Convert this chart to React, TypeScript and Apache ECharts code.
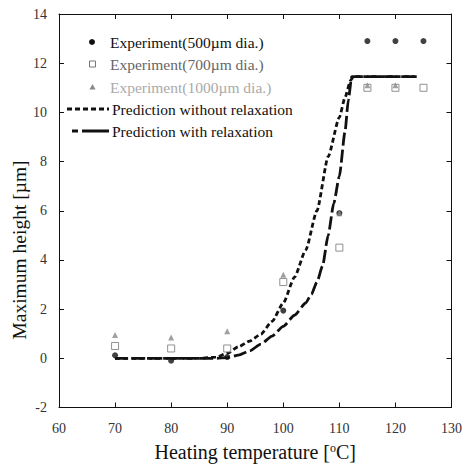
import React, { useEffect, useRef } from "react";
import * as echarts from "echarts";

const temps = [70, 80, 90, 100, 110, 115, 120, 125];
const exp500 = [0.12, -0.1, 0.05, 1.94, 5.9, 12.9, 12.9, 12.9];
const exp700 = [0.5, 0.4, 0.4, 3.1, 4.5, 11.0, 11.0, 11.0];
const exp1000Temps = [70, 80, 90, 100, 110, 115, 120];
const exp1000 = [0.95, 0.85, 1.1, 3.4, 5.9, 11.1, 11.1];

const predNoRelaxX = [70, 75, 80, 85, 88, 90, 92, 94, 96, 98, 100, 102, 104, 106, 108, 110, 111, 112, 112.5, 124];
const predNoRelaxY = [0, 0, 0, 0, 0.05, 0.2, 0.47, 0.7, 0.98, 1.5, 2.25, 3.3, 4.4, 6.0, 8.2, 9.8, 10.6, 11.3, 11.45, 11.45];
const predRelaxX = [70, 80, 85, 88, 90, 92, 94, 96, 98, 100, 102, 104, 105, 106, 107, 108, 109, 110, 111, 111.6, 112.2, 124];
const predRelaxY = [0, 0, 0, 0, 0.03, 0.13, 0.3, 0.58, 0.9, 1.3, 1.75, 2.25, 2.6, 3.1, 3.75, 5.0, 6.3, 7.4, 9.2, 10.5, 11.45, 11.45];

const names = [
  "Experiment(500µm dia.)",
  "Experiment(700µm dia.)",
  "Experiment(1000µm dia.)",
  "Prediction without relaxation",
  "Prediction with relaxation",
];
const legendColors = ["#111", "#666", "#aaa", "#111", "#111"];

const zip = (xs: number[], ys: number[]) => xs.map((x, i) => [x, ys[i]]);

export default function App() {
  const ref = useRef<HTMLDivElement>(null);
  useEffect(() => {
    const chart = echarts.init(ref.current!, null, { renderer: "svg" });
    const font = "'Liberation Serif', 'Times New Roman', serif";
    const axisCommon = {
      axisLine: { show: true, onZero: false, lineStyle: { color: "#111", width: 1 } },
      axisTick: { show: true, inside: true, length: 5, lineStyle: { color: "#111" } },
      splitLine: { show: false },
    };
    const rowY = [42, 64, 87, 109, 131];
    const textX = 110;
    const legendGraphics: any[] = [];
    names.forEach((n, i) => {
      legendGraphics.push({
        type: "text",
        x: i >= 3 ? 112 : textX,
        y: rowY[i],
        style: { text: n, font: `15.5px ${font}`, fill: legendColors[i], verticalAlign: "middle", align: "left" },
      });
    });
    legendGraphics.push({ type: "circle", shape: { cx: 92, cy: rowY[0], r: 3 }, style: { fill: "#111" } });
    legendGraphics.push({
      type: "rect",
      shape: { x: 89.5, y: rowY[1] - 3, width: 6, height: 6 },
      style: { fill: "#fff", stroke: "#777", lineWidth: 1 },
    });
    legendGraphics.push({
      type: "polygon",
      shape: { points: [[92.5, rowY[2] - 3], [95.5, rowY[2] + 2.5], [89.5, rowY[2] + 2.5]] },
      style: { fill: "#888" },
    });
    legendGraphics.push({
      type: "line",
      shape: { x1: 67, y1: rowY[3], x2: 109, y2: rowY[3] },
      style: { stroke: "#111", lineWidth: 2.8, lineDash: [5, 3] },
    });
    legendGraphics.push({
      type: "line",
      shape: { x1: 72, y1: rowY[4], x2: 109, y2: rowY[4] },
      style: { stroke: "#111", lineWidth: 2.8, lineDash: [6, 4, 27, 4] },
    });

    chart.setOption({
      animation: false,
      backgroundColor: "#fff",
      textStyle: { fontFamily: font },
      grid: { left: 59, right: 11, top: 14, bottom: 58, containLabel: false },
      xAxis: [
        {
          type: "value",
          min: 60,
          max: 130,
          interval: 10,
          ...axisCommon,
          axisLabel: { fontFamily: font, fontSize: 14, color: "#333", margin: 14 },
          name: "Heating temperature [{sup|o}C]",
          nameLocation: "middle",
          nameGap: 34,
          nameTextStyle: {
            fontFamily: font,
            fontSize: 20,
            color: "#111",
            rich: { sup: { fontFamily: font, fontSize: 12, verticalAlign: "top", padding: [0, 0, 9, 0], color: "#111" } },
          },
        },
        {
          type: "value",
          position: "top",
          min: 60,
          max: 130,
          interval: 10,
          ...axisCommon,
          axisLabel: { show: false },
        },
      ],
      yAxis: [
        {
          type: "value",
          min: -2,
          max: 14,
          interval: 2,
          ...axisCommon,
          axisLabel: { fontFamily: font, fontSize: 14, color: "#333", margin: 12 },
        },
        {
          type: "value",
          position: "right",
          min: -2,
          max: 14,
          interval: 2,
          ...axisCommon,
          axisLabel: { show: false },
        },
      ],
      graphic: [
        {
          type: "text",
          x: 19,
          y: 250,
          rotation: Math.PI / 2,
          style: {
            text: "Maximum height [µm]",
            font: `19.5px ${font}`,
            fill: "#111",
            align: "center",
            verticalAlign: "middle",
          },
        },
        ...legendGraphics,
      ],
      series: [
        {
          name: names[3],
          type: "line",
          data: zip(predNoRelaxX, predNoRelaxY),
          symbol: "none",
          smooth: 0.2,
          smoothMonotone: "x",
          lineStyle: { color: "#111", width: 2.8, type: [5, 3] },
          z: 2,
        },
        {
          name: names[4],
          type: "line",
          data: zip(predRelaxX, predRelaxY),
          symbol: "none",
          smooth: 0.2,
          smoothMonotone: "x",
          lineStyle: { color: "#111", width: 2.8, type: [13, 4] },
          z: 2,
        },
        {
          name: names[0],
          type: "scatter",
          data: zip(temps, exp500),
          symbol: "circle",
          symbolSize: 6,
          itemStyle: { color: "#111" },
          z: 3,
        },
        {
          name: names[1],
          type: "scatter",
          data: zip(temps, exp700),
          symbol: "rect",
          symbolSize: 7,
          itemStyle: { color: "#fff", borderColor: "#777", borderWidth: 1 },
          z: 3,
        },
        {
          name: names[2],
          type: "scatter",
          data: zip(exp1000Temps, exp1000),
          symbol: "triangle",
          symbolSize: 6,
          itemStyle: { color: "#888" },
          z: 4,
        },
      ],
    });
    return () => chart.dispose();
  }, []);
  return <div ref={ref} style={{ width: 465, height: 467, position: "absolute", left: 0, top: 0 }} />;
}
